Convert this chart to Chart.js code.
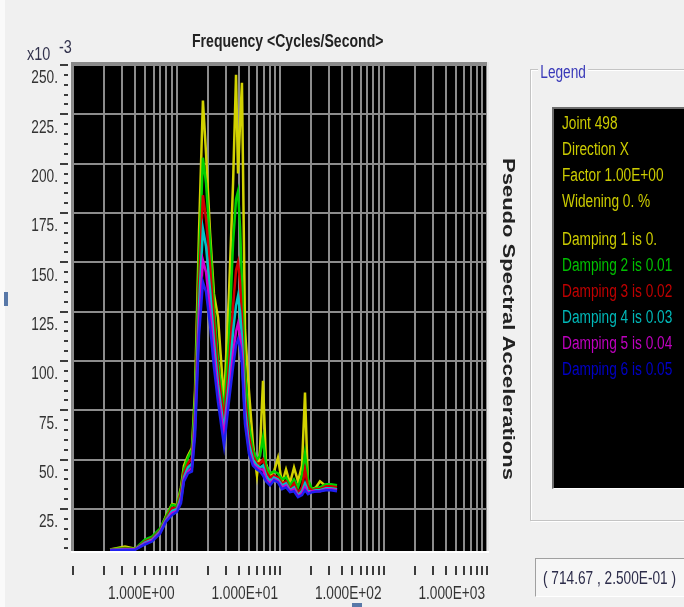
<!DOCTYPE html>
<html>
<head>
<meta charset="utf-8">
<script src="https://cdn.jsdelivr.net/npm/chart.js@4.4.1/dist/chart.umd.min.js"></script>
<style>
  html, body { margin: 0; padding: 0; background: #f0f0f0; }
  #page { position: relative; width: 684px; height: 607px; overflow: hidden; font-family: Arial, "Liberation Sans", sans-serif; }
  #wrap { position: absolute; left: 0; top: 0; width: 684px; height: 607px; }
  .t { position: absolute; white-space: nowrap; line-height: 1; font-size: 18px; transform-origin: 0 0; transform: scaleX(0.76); }
</style>
</head>
<body>
<div id="page">
  <div style="position:absolute;left:0;top:0;width:5px;height:607px;background:#fafafa"></div>
  <div style="position:absolute;left:4px;top:292px;width:4px;height:14px;background:#5878a8"></div>
  <div style="position:absolute;left:352px;top:603px;width:10px;height:4px;background:#5878a8"></div>

  <div id="wrap"><canvas id="chart"></canvas></div>

  <div class="t" style="left:192px;top:32px;font-size:18.5px;font-weight:bold;color:#222">Frequency &lt;Cycles/Second&gt;</div>
  <div class="t" style="left:27px;top:44px;font-size:19px;color:#33334d">x10</div>
  <div class="t" style="left:59px;top:37px;font-size:19px;color:#33334d">-3</div>
  <div style="position:absolute;left:508px;top:319px;white-space:nowrap;line-height:1;font-size:22px;font-weight:bold;color:#222;transform-origin:0 0;transform:rotate(90deg) scaleY(0.76) translate(-50%,-50%)">Pseudo Spectral Accelerations</div>

  <div style="position:absolute;left:530px;top:69px;width:170px;height:450px;border:1px solid #c4c4c4;box-shadow:1px 1px 0 #fff, inset 1px 1px 0 #fff"></div>
  <div class="t" style="left:538px;top:63px;padding:0 3px;background:#f0f0f0;color:#3838b8">Legend</div>
  <div style="position:absolute;left:552px;top:107px;width:140px;height:379px;background:#000;border-top:2px solid #6e6e6e;border-left:2px solid #6e6e6e;border-bottom:1px solid #fff"></div>
  <div id="legend"></div>

  <div style="position:absolute;left:535px;top:558px;width:160px;height:37px;background:#f6f6f6;border-top:1px solid #a0a0a0;border-left:1px solid #a0a0a0;border-bottom:1px solid #fff"></div>
  <div class="t" style="left:543px;top:569px;color:#2c2c4a">( 714.67 , 2.500E-01 )</div>
</div>
<script>
// frequency (Hz) of each spectrum point
const freqHz = [0.228, 0.318, 0.397, 0.496, 0.58, 0.693, 0.792, 0.905, 1.01, 1.105, 1.18, 1.29, 1.41, 1.51, 1.65, 1.80, 1.93, 2.11, 2.30, 2.52, 2.88, 3.22, 3.52, 3.76, 3.93, 4.11, 4.29, 4.59, 5.01, 5.48, 5.99, 6.41, 6.85, 7.32, 8.01, 8.75, 9.56, 10.45, 11.43, 12.49, 13.66, 14.93, 16.32, 17.44, 18.65, 20.38, 22.28, 24.35, 27.82, 31.1, 35.55];

// pseudo spectral acceleration, x10^-3
const damping1 = [4.5, 6.0, 4.8, 8.5, 10.5, 14.5, 21.5, 27.5, 27.0, 36, 47, 52, 56, 85, 165, 232, 205, 165, 134, 122, 79, 135, 190, 245, 195, 220, 241, 116, 85, 58, 42, 55, 90, 48, 42, 44, 51, 38, 45, 38, 46, 39, 47, 84, 36, 35, 36, 39, 36.5, 37, 37];
const damping2 = [4.5, 5.2, 4.7, 9.5, 11.0, 15.0, 21.0, 27.0, 26.5, 35, 45, 51, 55, 80, 150, 203, 190, 160, 128, 100, 74, 112, 160, 182, 186, 168, 140, 95, 68, 55, 50, 52, 61, 47, 43, 44, 43, 40, 41, 37, 40, 36, 42, 53, 40, 35, 35.5, 36, 37.5, 37.5, 37];
const damping3 = [4.3, 4.8, 4.6, 8.5, 10.0, 14.0, 20.0, 25.5, 25.5, 33, 43, 48, 51, 74, 138, 184, 172, 148, 120, 94, 70, 98, 128, 146, 150, 140, 122, 82, 62, 52, 48, 48, 50, 44, 41, 42, 41, 38, 39, 35, 38, 33, 36, 45, 36, 34.5, 35, 35, 36.5, 36.5, 36];
const damping4 = [4.2, 4.6, 4.5, 8.0, 9.5, 13.5, 19.5, 24.0, 25.0, 31, 41, 46, 48, 70, 128, 167, 158, 136, 110, 88, 65, 90, 115, 128, 133, 125, 112, 76, 58, 50, 47, 46, 47, 42, 39, 41, 40, 37, 38, 34.5, 36, 32, 34, 38, 34, 34, 34.5, 34.5, 35.5, 35.5, 35];
const damping5 = [4.1, 4.4, 4.4, 7.5, 9.0, 13.0, 19.0, 23.0, 24.0, 29.5, 40, 44, 46, 66, 120, 151, 145, 126, 103, 83, 62, 84, 104, 115, 119, 113, 103, 71, 55, 48, 46, 45, 45, 40, 38, 40, 39, 36, 37, 34, 35, 31.5, 33, 36, 33, 34, 34, 34, 35, 35, 34.5];
const damping6 = [4.0, 4.2, 4.3, 7.0, 8.5, 12.5, 18.5, 22.0, 23.5, 28, 39, 43, 44, 62, 113, 140, 135, 118, 97, 79, 57, 80, 97, 108, 111, 107, 98, 68, 53, 47, 45, 44, 42, 39, 37, 39.5, 38.5, 35, 36, 33.5, 34, 31, 32, 34.5, 32.5, 33.5, 33.8, 34, 34.5, 34.5, 34];

const seriesNames = ["Damping 1 is 0.", "Damping 2 is 0.01", "Damping 3 is 0.02", "Damping 4 is 0.03", "Damping 5 is 0.04", "Damping 6 is 0.05"];
const lineColors = ["#d2d200", "#00d000", "#d00000", "#00c4c4", "#d000d0", "#2020f0"];
const textColors = ["#cccc00", "#00c000", "#c00000", "#00b8b8", "#c000c0", "#0000c8"];
const headerLines = ["Joint 498", "Direction X", "Factor 1.00E+00", "Widening 0. %"];

const yTickValues = [25, 50, 75, 100, 125, 150, 175, 200, 225, 250];
const yTickLabels = ["25.", "50.", "75.", "100.", "125.", "150.", "175.", "200.", "225.", "250."];
const xDecades = [0.1, 1, 10, 100, 1000];
const xTickLabels = ["", "1.000E+00", "1.000E+01", "1.000E+02", "1.000E+03"];

// log grid: 1..9 in every decade
let xGrid = [];
for (let i = 0; i < xDecades.length - 1; i++)
    for (let m = 1; m < 10; m++)
        xGrid.push(+(xDecades[i] * m).toPrecision(3));
xGrid.push(xDecades[xDecades.length - 1]);

// legend panel text
let legendHtml = "";
headerLines.forEach(function (s, i) {
    legendHtml += '<div class="t" style="left:562px;top:' + (114 + i * 26) + 'px;color:#cccc00">' + s + '</div>';
});
seriesNames.forEach(function (s, i) {
    legendHtml += '<div class="t" style="left:562px;top:' + (230 + i * 26) + 'px;color:' + textColors[i] + '">' + s + '</div>';
});
document.getElementById("legend").innerHTML = legendHtml;

function narrowText(ctx, text, x, y, align) {
    ctx.save();
    ctx.font = "18px Arial, 'Liberation Sans', sans-serif";
    ctx.fillStyle = "#333";
    ctx.textBaseline = "middle";
    ctx.textAlign = align;
    ctx.translate(x, y);
    ctx.scale(0.76, 1);
    ctx.fillText(text, 0, 0);
    ctx.restore();
}

const plotFrame = {
    id: "plotFrame",
    beforeDraw: function (chart) {
        const ctx = chart.ctx, a = chart.chartArea;
        ctx.save();
        ctx.fillStyle = "#000";
        ctx.fillRect(a.left, a.top, a.right - a.left, a.bottom - a.top);
        ctx.restore();
    },
    afterDraw: function (chart) {
        const ctx = chart.ctx, a = chart.chartArea, xs = chart.scales.x, ys = chart.scales.y;
        ctx.save();
        // sunken border
        ctx.fillStyle = "#8a8a8a";
        ctx.fillRect(a.left - 2, a.top - 3, a.right - a.left + 4, 3);
        ctx.fillRect(a.left - 2, a.top - 3, 2, a.bottom - a.top + 3);
        ctx.fillStyle = "#ffffff";
        ctx.fillRect(a.left - 2, a.bottom, a.right - a.left + 4, 2);
        ctx.fillStyle = "#e6e6e6";
        ctx.fillRect(a.right, a.top - 3, 2, a.bottom - a.top + 3);
        // y tick marks
        ctx.fillStyle = "#3c3c3c";
        for (let v = 5; v <= 250; v += 5) {
            const py = Math.round(ys.getPixelForValue(v));
            const major = yTickValues.indexOf(v) >= 0;
            ctx.fillRect(major ? 60 : 64, py - 1, major ? 8 : 4, 2);
        }
        // x tick marks
        xGrid.forEach(function (v) {
            const px = Math.round(xs.getPixelForValue(v));
            ctx.fillRect(px - 1, 566, 2, 9);
        });
        ctx.restore();
        yTickValues.forEach(function (v, i) {
            narrowText(ctx, yTickLabels[i], 58, ys.getPixelForValue(v) + 13.5, "right");
        });
        xDecades.forEach(function (v, i) {
            if (xTickLabels[i]) narrowText(ctx, xTickLabels[i], xs.getPixelForValue(v) - 2, 594, "right");
        });
    }
};

const allSeries = [damping1, damping2, damping3, damping4, damping5, damping6];

new Chart(document.getElementById("chart").getContext("2d"), {
    type: "line",
    data: {
        datasets: allSeries.map(function (vals, i) {
            return {
                label: seriesNames[i],
                data: freqHz.map(function (f, j) { return {x: f, y: vals[j]}; }),
                borderColor: lineColors[i],
                backgroundColor: lineColors[i],
                borderWidth: 2.5,
                pointRadius: 0,
                tension: 0,
                order: 6 - i
            };
        })
    },
    options: {
        responsive: true,
        maintainAspectRatio: false,
        animation: false,
        devicePixelRatio: 1,
        events: [],
        layout: {padding: {top: 65, right: 197, left: 0, bottom: 0}},
        plugins: {legend: {display: false}, tooltip: {enabled: false}},
        scales: {
            x: {
                type: "logarithmic",
                min: 0.1,
                max: 1000,
                afterBuildTicks: function (s) { s.ticks = xGrid.map(function (v) { return {value: v}; }); },
                afterFit: function (s) { s.height = 56; },
                ticks: {display: false},
                border: {display: false},
                grid: {color: "#8c8c8c", lineWidth: 2, drawTicks: false}
            },
            y: {
                min: 3.7,
                max: 250,
                afterBuildTicks: function (s) { s.ticks = yTickValues.map(function (v) { return {value: v}; }); },
                afterFit: function (s) { s.width = 73; },
                ticks: {display: false},
                border: {display: false},
                grid: {color: "#8c8c8c", lineWidth: 2, drawTicks: false}
            }
        }
    },
    plugins: [plotFrame]
});
</script>
</body>
</html>
